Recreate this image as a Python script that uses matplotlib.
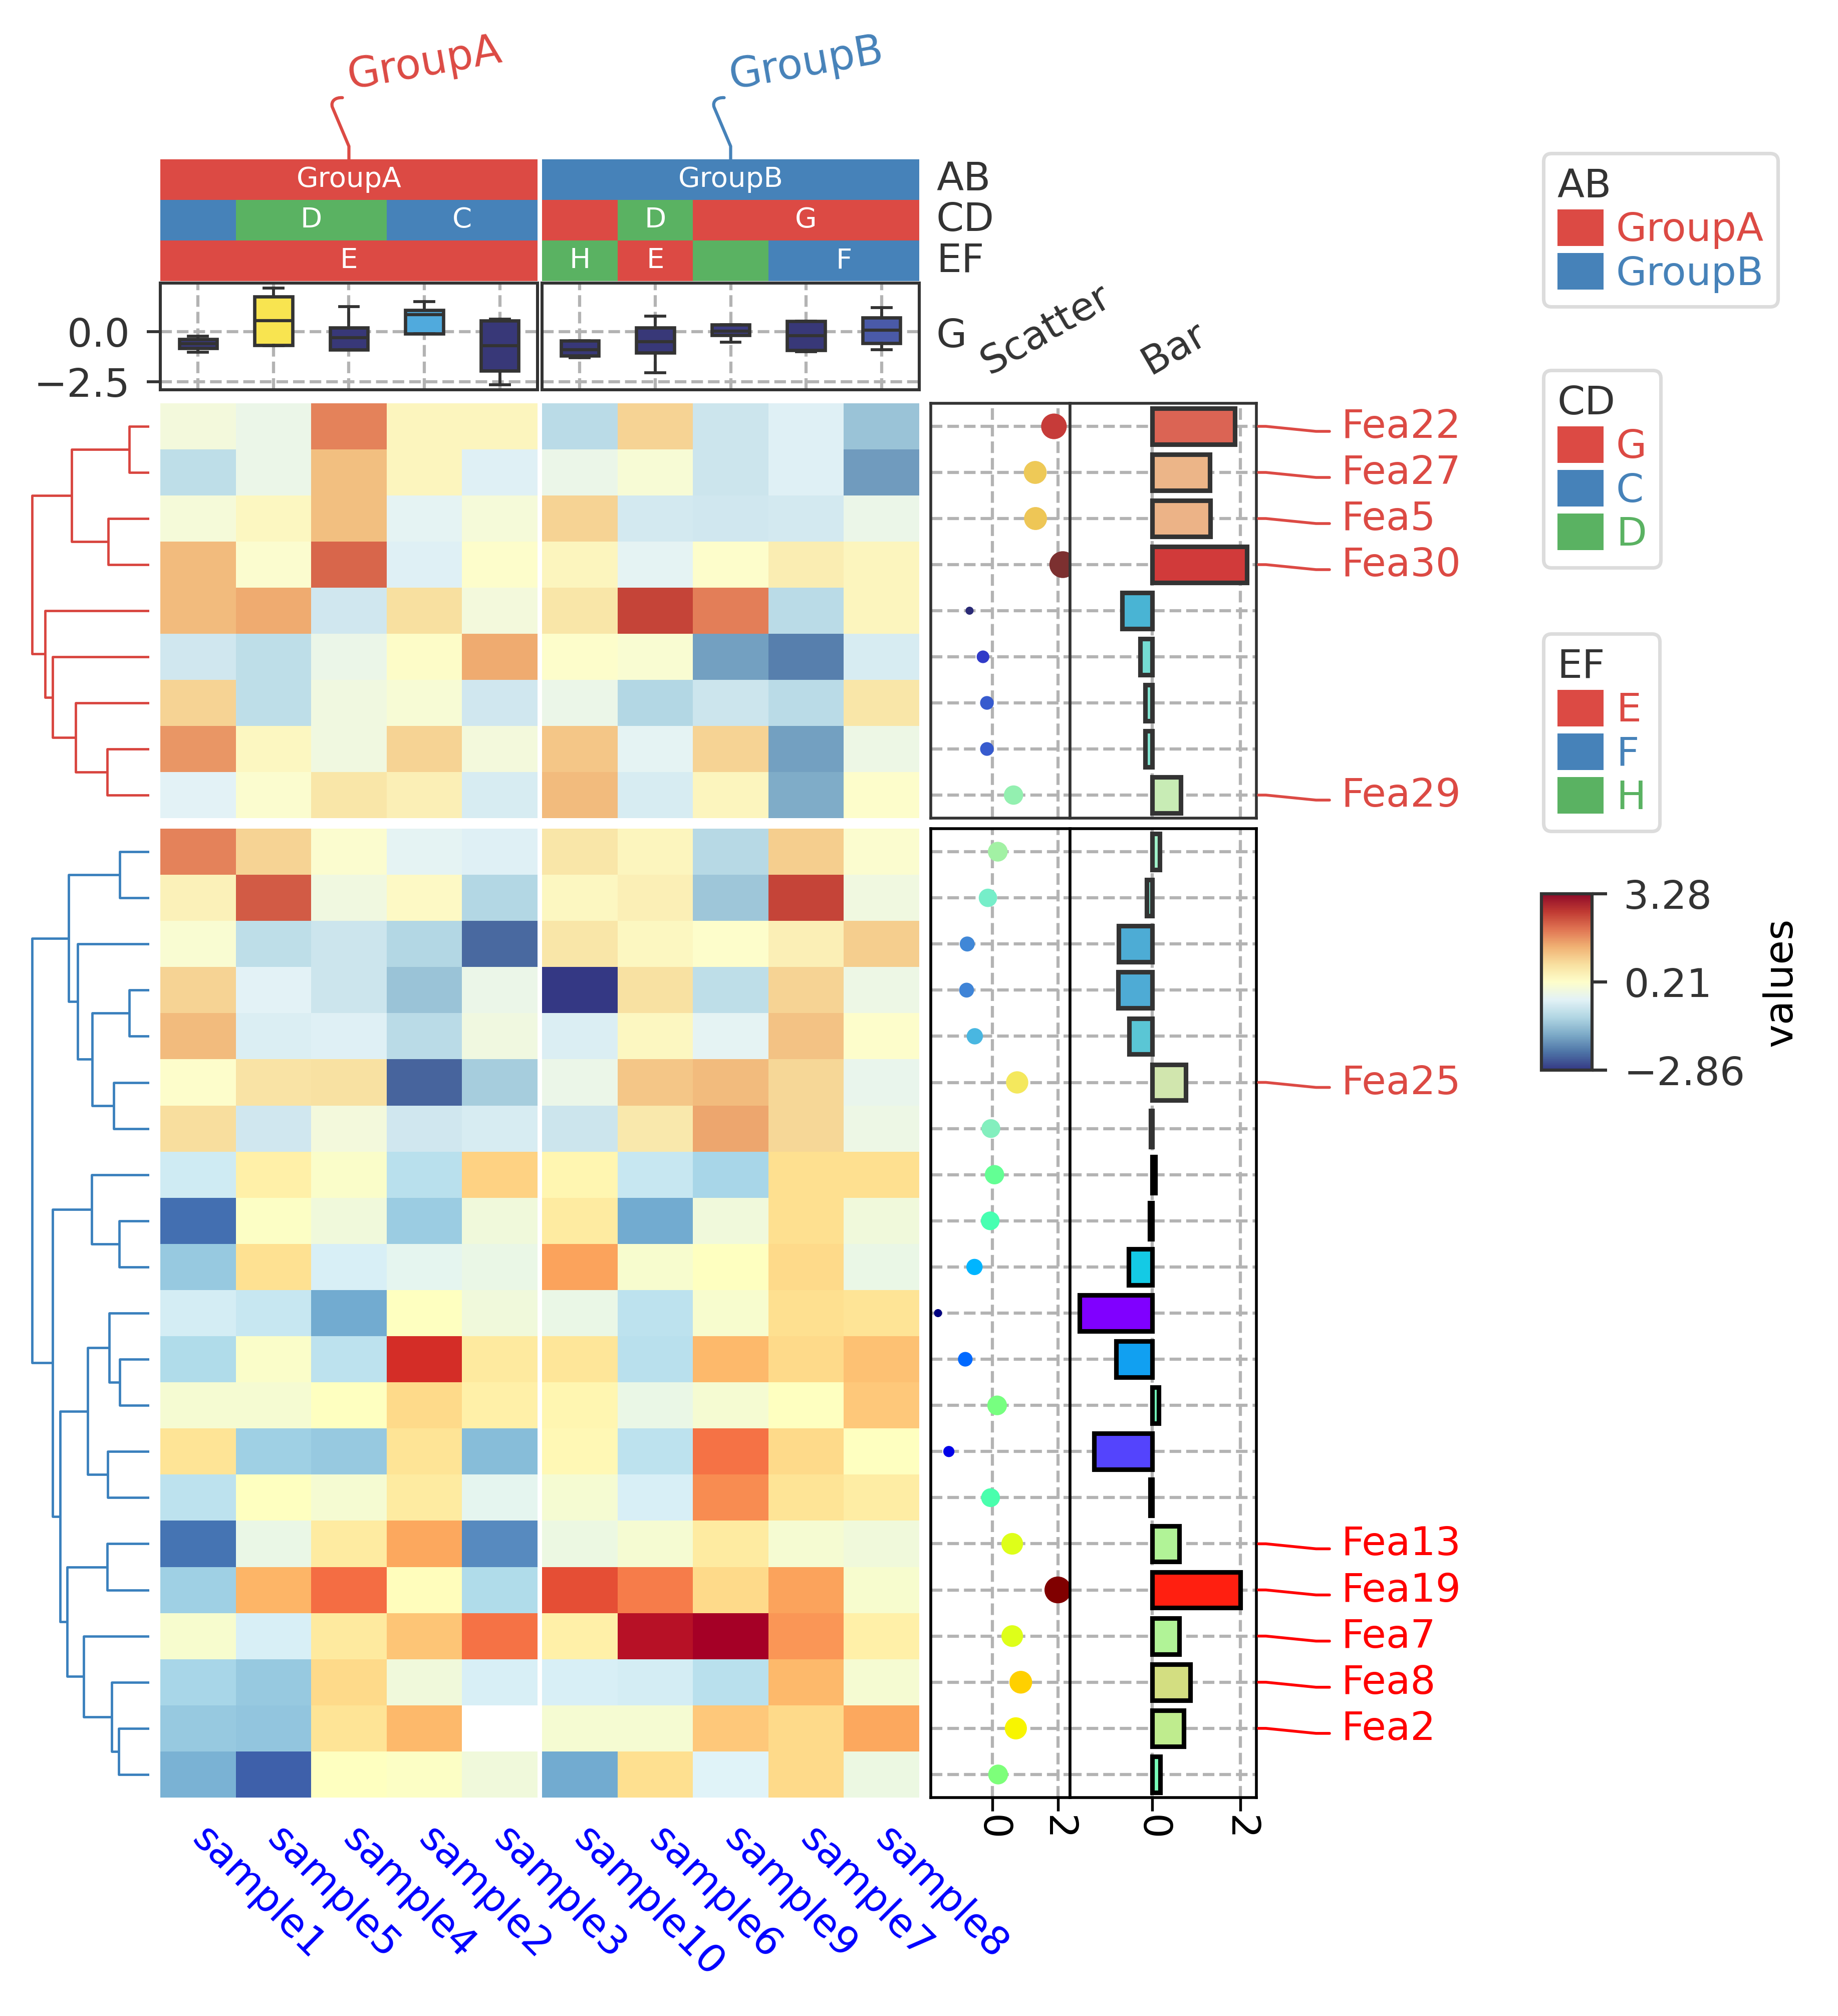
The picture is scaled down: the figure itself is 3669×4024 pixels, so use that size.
import numpy as np
import matplotlib
matplotlib.use("Agg")
import matplotlib.pyplot as plt
from matplotlib.colors import ListedColormap, Normalize
from matplotlib.cm import ScalarMappable
from matplotlib.patches import Patch, PathPatch
from matplotlib.path import Path
from matplotlib.lines import Line2D

W, H, DPI = 3670, 4024, 300
FS = 19

# ---------------- data ----------------
samples_a = ["sample1", "sample5", "sample4", "sample2", "sample3"]
samples_b = ["sample10", "sample6", "sample9", "sample7", "sample8"]

ab_levels = ["GroupA", "GroupB"]
cd_levels = ["G", "C", "D"]
ef_levels = ["E", "F", "H"]
ab_a = ["GroupA"] * 5
ab_b = ["GroupB"] * 5
cd_a = ["C", "D", "D", "C", "C"]
cd_b = ["G", "D", "G", "G", "G"]
ef_a = ["E"] * 5
ef_b = ["H", "E", "H", "F", "F"]

rows_top = ["Fea22", "Fea27", "Fea5", "Fea30", "Fea1", "Fea3", "Fea4", "Fea6", "Fea29"]
rows_bottom = ["Fea9", "Fea10", "Fea11", "Fea12", "Fea14", "Fea25", "Fea15", "Fea16",
               "Fea17", "Fea18", "Fea20", "Fea21", "Fea23", "Fea24", "Fea26", "Fea13",
               "Fea19", "Fea7", "Fea8", "Fea2", "Fea28"]
labeled = ["Fea22", "Fea27", "Fea5", "Fea30", "Fea29", "Fea25",
           "Fea13", "Fea19", "Fea7", "Fea8", "Fea2"]

# columns: sample1, 5, 4, 2, 3 | sample10, 6, 9, 7, 8
heat_top = np.array([
    [-0.05, -0.2, 1.9, 0.4, 0.4, -0.9, 1.0, -0.7, -0.45, -1.3],
    [-0.85, -0.2, 1.25, 0.4, -0.45, -0.2, 0.05, -0.7, -0.45, -1.8],
    [0.0, 0.35, 1.25, -0.35, 0.0, 1.0, -0.6, -0.65, -0.6, -0.2],
    [1.3, 0.15, 2.2, -0.45, 0.2, 0.4, -0.35, 0.2, 0.55, 0.4],
    [1.3, 1.5, -0.65, 0.82, -0.05, 0.7, 2.55, 1.95, -0.9, 0.4],
    [-0.65, -0.85, -0.2, 0.25, 1.5, 0.2, 0.1, -1.75, -2.1, -0.55],
    [1.0, -0.85, -0.1, 0.05, -0.65, -0.2, -1.0, -0.7, -0.9, 0.7],
    [1.7, 0.35, -0.1, 1.0, -0.05, 1.15, -0.35, 1.0, -1.75, -0.15],
    [-0.4, 0.15, 0.7, 0.5, -0.55, 1.3, -0.55, 0.4, -1.6, 0.2],
])
heat_bottom = np.array([
    [1.9, 1.0, 0.15, -0.35, -0.45, 0.7, 0.4, -0.95, 1.05, 0.15],
    [0.45, 2.3, -0.1, 0.3, -1.0, 0.35, 0.5, -1.25, 2.55, -0.1],
    [0.1, -0.85, -0.7, -1.0, -2.35, 0.7, 0.35, 0.2, 0.5, 1.05],
    [1.0, -0.4, -0.7, -1.3, -0.2, -2.86, 0.8, -0.85, 1.0, -0.15],
    [1.3, -0.5, -0.45, -0.9, -0.1, -0.5, 0.35, -0.35, 1.2, 0.2],
    [0.2, 0.75, 0.8, -2.4, -1.15, -0.2, 1.15, 1.3, 0.95, -0.25],
    [0.85, -0.65, -0.05, -0.65, -0.55, -0.7, 0.65, 1.55, 0.95, -0.15],
    [-0.6, 0.5, 0.1, -0.85, 1.0, 0.4, -0.7, -1.05, 0.82, 0.82],
    [-2.3, 0.15, -0.1, -1.2, -0.1, 0.6, -1.65, -0.1, 0.82, -0.1],
    [-1.25, 0.8, -0.5, -0.3, -0.2, 1.55, 0.05, 0.2, 0.9, -0.2],
    [-0.55, -0.7, -1.65, 0.2, -0.1, -0.2, -0.8, 0.05, 0.82, 0.75],
    [-0.95, 0.1, -0.8, 2.7, 0.62, 0.7, -0.85, 1.3, 0.9, 1.2],
    [0.0, 0.0, 0.2, 0.9, 0.5, 0.4, -0.2, 0.0, 0.2, 1.1],
    [0.75, -1.15, -1.25, 0.75, -1.4, 0.35, -0.8, 2.0, 0.9, 0.2],
    [-0.8, 0.2, 0.0, 0.6, -0.3, 0.0, -0.5, 1.75, 0.75, 0.55],
    [-2.25, -0.2, 0.6, 1.5, -2.0, -0.15, 0.0, 0.6, 0.0, -0.1],
    [-1.15, 1.35, 2.05, 0.25, -0.95, 2.35, 1.9, 0.9, 1.55, 0.05],
    [0.05, -0.5, 0.62, 1.15, 2.0, 0.5, 3.05, 3.28, 1.65, 0.5],
    [-1.05, -1.25, 0.9, -0.1, -0.5, -0.5, -0.55, -0.85, 1.3, 0.0],
    [-1.25, -1.3, 0.75, 1.3, np.nan, 0.0, 0.0, 1.1, 0.9, 1.5],
    [-1.55, -2.45, 0.2, 0.15, -0.1, -1.65, 0.82, -0.4, 0.9, -0.15],
])

# row annotation (same values drawn as scatter and bar)
vals_top = np.array([1.88, 1.31, 1.32, 2.15, -0.69, -0.28, -0.16, -0.16, 0.65])
vals_bottom = np.array([0.17, -0.13, -0.76, -0.78, -0.53, 0.76, -0.04, 0.07, -0.06,
                        -0.54, -1.65, -0.82, 0.15, -1.32, -0.05, 0.61, 2.0, 0.61,
                        0.87, 0.72, 0.18])

# column boxplot stats (order as columns)
box_lo = [-1.02, -0.70, -0.90, -0.10, -2.65, -1.29, -2.04, -0.51, -1.00, -0.90]
box_q1 = [-0.83, -0.66, -0.90, -0.10, -1.94, -1.19, -1.04, -0.17, -0.92, -0.56]
box_med = [-0.60, 0.56, -0.29, 0.85, -0.70, -0.90, -0.49, 0.02, -0.19, 0.07]
box_q3 = [-0.36, 1.75, 0.19, 1.07, 0.56, -0.44, 0.19, 0.36, 0.53, 0.70]
box_hi = [-0.22, 2.18, 1.24, 1.50, 0.63, -0.44, 0.78, 0.36, 0.53, 1.19]

# dendrograms: (height, left, right), leaves are row indices
tree_top = (232, (154, (40, 0, 1), (81, 2, 3)),
            (207, 4, (192, 5, (146, 6, (83, 7, 8)))))
tree_bottom = (233,
               (161, (59, 0, 1), (143, 2, (114, (40, 3, 4), (71, 5, 6)))),
               (192, (115, 7, (60, 8, 9)),
                (178, (123, (80, 10, (59, 11, 12)), (83, 13, 14)),
                 (164, (84, 15, 16), (131, 17, (75, 18, (61, 19, 20)))))))

# ---------------- style ----------------
RED, BLUE, GREEN = "#dc4a44", "#4682b9", "#5ab262"
PALETTE = [RED, BLUE, GREEN]
DEND_BOTTOM = "#3a80bd"
DARK = "#333333"
BOX_COLORS = ["#383878", "#f8e450", "#383878", "#50aadd", "#383878",
              "#383878", "#383878", "#3c3c80", "#383878", "#4a5aa8"]
GRID = dict(ls="--", color="#b3b3b3", lw=1.5)
CUT_PX = 2286  # the reference's upper part is rendered with muted colours

# layout in pixels (x0, x1) / (top, bottom)
COL_A, COL_B = (320, 1073), (1082, 1835)
BLOCK_TOP, BLOCK_BOT = (805, 1633), (1654, 3588)
ANN_Y, BOX_Y = (318, 561), (565, 778)
DEND_X, SC_X, BAR_X = (20, 298), (1858, 2136), (2136, 2508)

plt.rcParams["font.family"] = ["DejaVu Sans"]
plt.rcParams["text.color"] = DARK
plt.rcParams["axes.edgecolor"] = DARK
plt.rcParams["xtick.color"] = DARK
plt.rcParams["ytick.color"] = DARK
fig = plt.figure(figsize=(W / DPI, H / DPI), dpi=DPI)


def ax_px(xr, yr):
    x0, x1 = xr
    y0, y1 = yr
    return fig.add_axes([x0 / W, 1 - y1 / H, (x1 - x0) / W, (y1 - y0) / H])


def fxy(x, y):
    return x / W, 1 - y / H


def wash(rgba, s=0.7, light=0.15):
    rgb = np.asarray(rgba)[..., :3]
    lum = rgb @ np.array([0.299, 0.587, 0.114])
    d = lum[..., None] + s * (rgb - lum[..., None])
    return np.clip((1 - light) * d + light, 0, 1)


def run_labels(values):
    runs, start = [], 0
    for i in range(1, len(values) + 1):
        if i == len(values) or values[i] != values[start]:
            runs.append((values[start], start, i))
            start = i
    best = {}
    for v, s, e in runs:
        if v not in best or e - s > best[v][1] - best[v][0]:
            best[v] = (s, e)
    return [(v, (s + e) / 2) for v, (s, e) in best.items()]


def draw_tree(ax, node, color):
    if isinstance(node, int):
        return node + 0.5, 0.0
    h, left, right = node
    y1, h1 = draw_tree(ax, left, color)
    y2, h2 = draw_tree(ax, right, color)
    ax.plot([h1, h, h, h2], [y1, y1, y2, y2], color=color, lw=1.15,
            solid_capstyle="butt")
    return (y1 + y2) / 2, h


# ---------------- heatmap ----------------
heat_all = np.vstack([heat_top, heat_bottom])
vmin, vmax = np.nanmin(heat_all), np.nanmax(heat_all)
cmap = plt.get_cmap("RdYlBu_r")
cmap_muted = ListedColormap(wash(cmap(np.linspace(0, 1, 256)), s=0.8, light=0.0))
for block, yr in ((heat_top, BLOCK_TOP), (heat_bottom, BLOCK_BOT)):
    n = block.shape[0]
    row_y_px = yr[0] + (np.arange(n) + 0.5) * (yr[1] - yr[0]) / n
    n_muted = int((row_y_px < CUT_PX).sum())
    for k, xr in enumerate((COL_A, COL_B)):
        ax = ax_px(xr, yr)
        sub = np.ma.masked_invalid(block[:, 5 * k:5 * k + 5])
        xe = np.arange(6)
        if n_muted:
            ax.pcolormesh(xe, np.arange(n_muted + 1), sub[:n_muted], cmap=cmap_muted,
                          vmin=vmin, vmax=vmax)
        if n_muted < n:
            ax.pcolormesh(xe, np.arange(n_muted, n + 1), sub[n_muted:], cmap=cmap,
                          vmin=vmin, vmax=vmax)
        ax.set_xlim(0, 5)
        ax.set_ylim(n, 0)
        for sp in ax.spines.values():
            sp.set_visible(False)
        ax.set_yticks([])
        if block is heat_bottom:
            ax.set_xticks(np.arange(5) + 0.5)
            ax.set_xticklabels(samples_a if k == 0 else samples_b, rotation=-45,
                               ha="left", va="center", rotation_mode="anchor",
                               color="blue", fontsize=FS)
            ax.tick_params(axis="x", length=0, pad=17)
        else:
            ax.set_xticks([])

# ---------------- dendrograms ----------------
for tree, yr, n, color in ((tree_top, BLOCK_TOP, 9, "#d8453f"),
                           (tree_bottom, BLOCK_BOT, 21, DEND_BOTTOM)):
    ax = ax_px(DEND_X, yr)
    draw_tree(ax, tree, color)
    ax.set_xlim(tree[0] * 1.19, 0)
    ax.set_ylim(n, 0)
    ax.axis("off")

# ---------------- column annotations ----------------
ann_cmap = ListedColormap(PALETTE)
for k, xr in enumerate((COL_A, COL_B)):
    tracks = [(ab_a, ab_b)[k], (cd_a, cd_b)[k], (ef_a, ef_b)[k]]
    levels = [ab_levels, cd_levels, ef_levels]
    codes = np.array([[lv.index(v) for v in tr] for tr, lv in zip(tracks, levels)])
    ax = ax_px(xr, ANN_Y)
    ax.pcolormesh(codes, cmap=ann_cmap, vmin=-0.5, vmax=2.5)
    ax.set_xlim(0, 5)
    ax.set_ylim(3, 0)
    ax.axis("off")
    for r, tr in enumerate(tracks):
        for lab, cx in run_labels(tr):
            ax.text(cx, r + 0.5, lab, color="white", ha="center", va="center",
                    fontsize=13.5)

    # group label with a curled connector
    cx_px = (xr[0] + xr[1]) / 2
    rel = [(0, 0), (0, 26), (-33, 104), (-37, 116), (-27, 124), (-13, 123)]
    pts = [fxy(cx_px + dx, ANN_Y[0] - dy) for dx, dy in rel]
    codes_p = [Path.MOVETO, Path.LINETO, Path.LINETO, Path.CURVE4, Path.CURVE4, Path.CURVE4]
    fig.add_artist(PathPatch(Path(pts, codes_p), transform=fig.transFigure,
                             fill=False, edgecolor=PALETTE[k], lw=1.5,
                             capstyle="round"))
    fig.text(*fxy(cx_px + 2, ANN_Y[0] - 141), ab_levels[k], color=PALETTE[k],
             fontsize=FS + 1, rotation=10, ha="left", va="baseline",
             rotation_mode="anchor")

for i, name in enumerate(["AB", "CD", "EF"]):
    yc = ANN_Y[0] + (i + 0.5) * (ANN_Y[1] - ANN_Y[0]) / 3
    fig.text(*fxy(1869, yc), name, fontsize=FS, ha="left", va="center")

# ---------------- column boxplots ----------------
span = max(box_hi) - min(box_lo)
for k, xr in enumerate((COL_A, COL_B)):
    ax = ax_px(xr, BOX_Y)
    stats = []
    for j in range(5 * k, 5 * k + 5):
        stats.append(dict(whislo=box_lo[j], q1=box_q1[j], med=box_med[j],
                          q3=box_q3[j], whishi=box_hi[j], fliers=[]))
    bp = ax.bxp(stats, positions=np.arange(5) + 0.5, widths=0.5, patch_artist=True,
                showfliers=False,
                boxprops=dict(edgecolor=DARK, linewidth=1.6),
                whiskerprops=dict(color=DARK, linewidth=1.4),
                capprops=dict(color=DARK, linewidth=1.4),
                medianprops=dict(color=DARK, linewidth=1.5))
    for patch, c in zip(bp["boxes"], BOX_COLORS[5 * k:5 * k + 5]):
        patch.set_facecolor(c)
    ax.set_xlim(0, 5)
    ax.set_ylim(min(box_lo) - 0.05 * span, max(box_hi) + 0.05 * span)
    ax.set_xticks(np.arange(5) + 0.5)
    ax.set_yticks([-2.5, 0.0])
    ax.grid(True, **GRID)
    ax.set_axisbelow(True)
    ax.tick_params(axis="x", length=0, labelbottom=False)
    if k == 0:
        ax.tick_params(axis="y", length=6.5, width=1.4, labelsize=FS, pad=8)
    else:
        ax.tick_params(axis="y", length=0, labelleft=False)
    for sp in ax.spines.values():
        sp.set_linewidth(1.45)
fig.text(*fxy(1869, (BOX_Y[0] + BOX_Y[1]) / 2), "G", fontsize=FS, ha="left", va="center")

# ---------------- row annotations: scatter + bar ----------------
vals_all = np.r_[vals_top, vals_bottom]
lo, hi = vals_all.min(), vals_all.max()
pad = 0.058 * (hi - lo)
bar_norm = Normalize(lo, hi)
for vals, yr, last in ((vals_top, BLOCK_TOP, False), (vals_bottom, BLOCK_BOT, True)):
    n = len(vals)
    y = np.arange(n) + 0.5
    row_y_px = yr[0] + y * (yr[1] - yr[0]) / n
    muted = row_y_px < CUT_PX
    snorm = Normalize(vals.min(), vals.max())
    sc_col = plt.cm.jet(snorm(vals))[:, :3]
    bar_col = plt.cm.rainbow(bar_norm(vals))[:, :3]
    sc_col[muted] = wash(sc_col[muted])
    bar_col[muted] = wash(bar_col[muted])
    edge = [DARK if m else "black" for m in muted]
    frame = "black" if last else DARK

    axs = ax_px(SC_X, yr)
    axs.scatter(vals, y, c=sc_col, s=15 + 150 * snorm(vals), linewidths=0, zorder=3)
    axb = ax_px(BAR_X, yr)
    axb.barh(y, vals, height=0.78, color=bar_col, edgecolor=edge, linewidth=2.2,
             zorder=3)
    for a in (axs, axb):
        a.set_ylim(n, 0)
        a.set_xlim(lo - pad, hi + pad)
        a.set_yticks(y)
        a.set_xticks([0, 2])
        a.grid(True, **GRID)
        a.set_axisbelow(True)
        a.tick_params(axis="y", length=0, labelleft=False)
        if last:
            a.tick_params(axis="x", labelrotation=270, length=6.5, width=1.3,
                          labelsize=FS, pad=2, color="black", labelcolor="black")
        else:
            a.tick_params(axis="x", length=0, labelbottom=False)
        for sp in a.spines.values():
            sp.set_linewidth(1.35)
            sp.set_edgecolor(frame)

top_y = BLOCK_TOP[0] - 57
fig.text(*fxy(SC_X[0] + 0.42 * (SC_X[1] - SC_X[0]), top_y), "Scatter", fontsize=FS,
         rotation=30, ha="left", va="baseline", rotation_mode="anchor")
fig.text(*fxy(BAR_X[0] + 0.43 * (BAR_X[1] - BAR_X[0]), top_y), "Bar", fontsize=FS,
         rotation=30, ha="left", va="baseline", rotation_mode="anchor")

# ---------------- row labels ----------------
row_px = {}
for names, (y0, y1) in ((rows_top, BLOCK_TOP), (rows_bottom, BLOCK_BOT)):
    step = (y1 - y0) / len(names)
    for i, nm in enumerate(names):
        row_px[nm] = y0 + (i + 0.5) * step
x0 = BAR_X[1] + 4
for nm in labeled:
    yr_ = row_px[nm]
    yl = yr_ + 10
    c = RED if yr_ < CUT_PX else "red"
    xs = [x0, x0 + 15, x0 + 115, x0 + 142]
    ys = [yr_, yr_, yl, yl]
    fx, fy = zip(*[fxy(a, b) for a, b in zip(xs, ys)])
    fig.add_artist(Line2D(fx, fy, transform=fig.transFigure, color=c, lw=1.35,
                          solid_capstyle="round"))
    fig.text(*fxy(x0 + 165, yr_ + 1), nm, color=c, fontsize=FS, ha="left", va="center")

# ---------------- legends ----------------
for title, names, colors, top in (("AB", ab_levels, PALETTE[:2], 306),
                                  ("CD", cd_levels, PALETTE, 739),
                                  ("EF", ef_levels, PALETTE, 1265)):
    handles = [Patch(facecolor=c, edgecolor="none") for c in colors]
    leg = fig.legend(handles, names, title=title, loc="upper left",
                     bbox_to_anchor=fxy(3081, top), bbox_transform=fig.transFigure,
                     fontsize=FS, title_fontsize=FS, frameon=True, fancybox=True,
                     edgecolor="#dcdcdc", framealpha=1, handlelength=1.16,
                     handleheight=1.04, handletextpad=0.32, labelspacing=0.1,
                     borderpad=0.35, borderaxespad=0, alignment="left")
    leg.get_frame().set_linewidth(1.7)
    for t, c in zip(leg.get_texts(), colors):
        t.set_color(c)

cax = ax_px((3077, 3178), (1784, 2136))
cbar = fig.colorbar(ScalarMappable(Normalize(vmin, vmax), cmap_muted), cax=cax)
ticks = [vmin, (vmin + vmax) / 2, vmax]
cbar.set_ticks(ticks, labels=[f"{t:.2f}".replace("-", "\u2212") for t in ticks])
cbar.ax.tick_params(length=7.2, width=1.5, labelsize=FS, pad=8)
cbar.outline.set_linewidth(1.5)
cbar.set_label("values", fontsize=FS, labelpad=8)

fig.savefig("out.png", dpi=DPI)
